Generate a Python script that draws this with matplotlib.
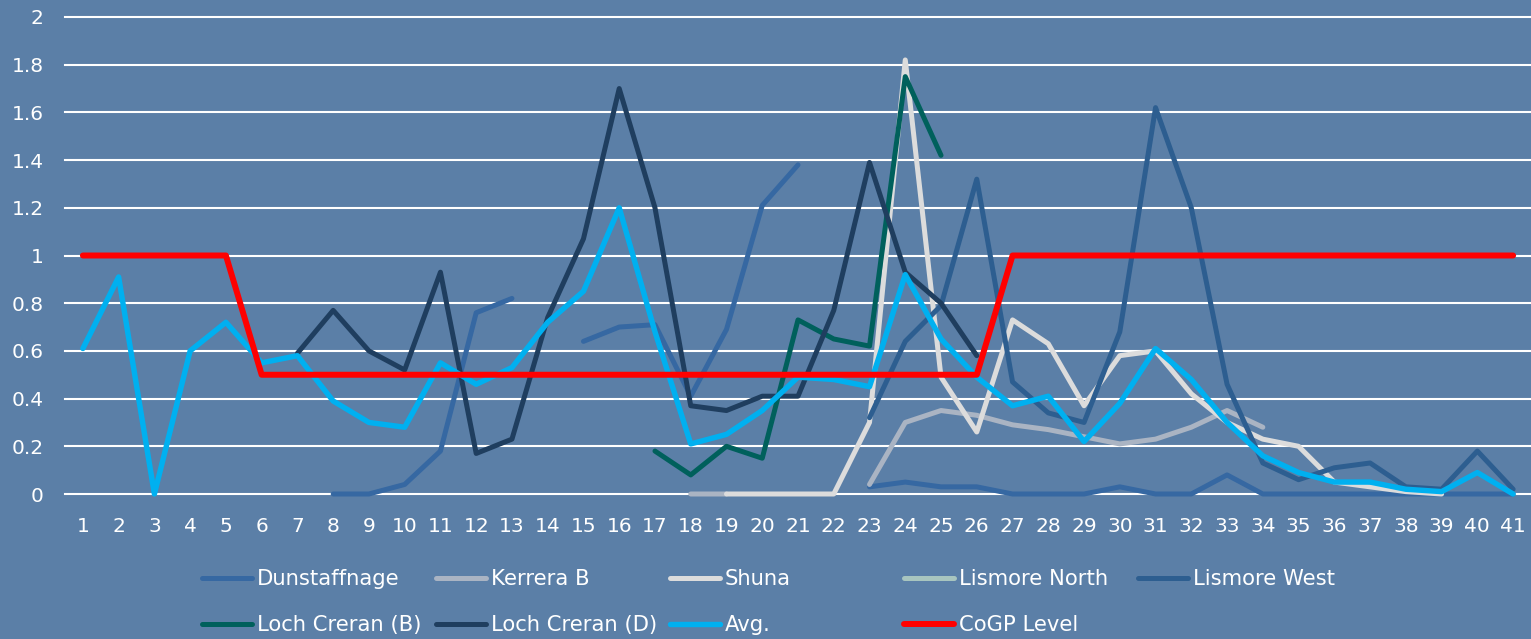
import numpy as np
import matplotlib
matplotlib.use("Agg")
import matplotlib.pyplot as plt
from matplotlib.lines import Line2D

nan = np.nan
x = list(range(1, 42))

dunstaffnage = [nan, nan, nan, nan, nan, nan, nan, 0.00, 0.00, 0.04,
                0.18, 0.76, 0.82, nan, 0.64, 0.70, 0.71, 0.41, 0.69, 1.21,
                1.38, nan, 0.03, 0.05, 0.03, 0.03, 0.00, 0.00, 0.00, 0.03,
                0.00, 0.00, 0.08, 0.00, 0.00, 0.00, 0.00, 0.00, 0.00, 0.00, 0.00]
kerrera_b = [nan, nan, nan, nan, nan, nan, nan, nan, nan, nan,
             nan, nan, nan, nan, nan, nan, nan, 0.00, 0.00, nan,
             nan, nan, 0.04, 0.30, 0.35, 0.33, 0.29, 0.27, 0.24, 0.21,
             0.23, 0.28, 0.35, 0.28, nan, nan, nan, nan, nan, nan, nan]
shuna = [nan, nan, nan, nan, nan, nan, nan, nan, nan, nan,
         nan, nan, nan, nan, nan, nan, nan, nan, 0.00, 0.00,
         0.00, 0.00, 0.30, 1.82, 0.49, 0.26, 0.73, 0.63, 0.37, 0.58,
         0.60, 0.42, 0.30, 0.23, 0.20, 0.05, 0.03, 0.01, 0.00, nan, nan]
lismore_north = [nan] * 41
lismore_west = [nan, nan, nan, nan, nan, nan, nan, nan, nan, nan,
                nan, nan, nan, nan, nan, nan, nan, nan, nan, nan,
                nan, nan, 0.32, 0.64, 0.79, 1.32, 0.47, 0.34, 0.30, 0.68,
                1.62, 1.20, 0.46, 0.13, 0.06, 0.11, 0.13, 0.03, 0.02, 0.18, 0.02]
loch_creran_b = [nan, nan, nan, nan, nan, nan, nan, nan, nan, nan,
                 nan, nan, nan, nan, nan, nan, 0.18, 0.08, 0.20, 0.15,
                 0.73, 0.65, 0.62, 1.75, 1.42, nan, nan, nan, nan, nan,
                 nan, nan, nan, nan, nan, nan, nan, nan, nan, nan, nan]
loch_creran_d = [nan, nan, nan, nan, nan, nan, 0.59, 0.77, 0.60, 0.52,
                 0.93, 0.17, 0.23, 0.74, 1.07, 1.70, 1.20, 0.37, 0.35, 0.41,
                 0.41, 0.77, 1.39, 0.93, 0.80, 0.58, nan, nan, nan, nan,
                 nan, nan, nan, nan, nan, nan, nan, nan, nan, nan, nan]
avg = [0.61, 0.91, 0.00, 0.60, 0.72, 0.55, 0.58, 0.39, 0.30, 0.28,
       0.55, 0.46, 0.53, 0.72, 0.85, 1.20, 0.68, 0.21, 0.25, 0.35,
       0.49, 0.48, 0.45, 0.92, 0.65, 0.49, 0.37, 0.41, 0.22, 0.38,
       0.61, 0.48, 0.30, 0.16, 0.09, 0.05, 0.05, 0.02, 0.01, 0.09, 0.00]
cogp = [1, 1, 1, 1, 1] + [0.5] * 21 + [1] * 15

series = [
    ("Dunstaffnage", dunstaffnage, "#3668a2", 3.6),
    ("Kerrera B", kerrera_b, "#aab4c3", 3.6),
    ("Shuna", shuna, "#dcdcdc", 3.6),
    ("Lismore North", lismore_north, "#a8c5bf", 3.6),
    ("Lismore West", lismore_west, "#2d5e90", 3.6),
    ("Loch Creran (B)", loch_creran_b, "#00605c", 3.6),
    ("Loch Creran (D)", loch_creran_d, "#1f3e5f", 3.6),
    ("Avg.", avg, "#00b0f0", 3.9),
    ("CoGP Level", cogp, "#ff0000", 4.3),
]

bg = "#5b7fa7"
W, H = 1531, 639
fig = plt.figure(figsize=(W / 100, H / 100), dpi=100, facecolor=bg)
ax = fig.add_axes([65 / W, 1 - 494 / H, 1 - 65 / W, (494 - 17) / H])
ax.set_facecolor(bg)
for s in ax.spines.values():
    s.set_visible(False)

ax.set_xlim(0.5, 41.5)
ax.set_ylim(0, 2)
yt = [0, 0.2, 0.4, 0.6, 0.8, 1, 1.2, 1.4, 1.6, 1.8, 2]
for v in yt:
    ax.axhline(v, color="white", lw=1.5, zorder=1, clip_on=False)
ax.set_yticks(yt)
ax.set_yticklabels([f"{v:g}" for v in yt])
ax.set_xticks(x)
ax.set_xticklabels([str(i) for i in x])
ax.tick_params(axis="both", length=0, colors="white", labelsize=14.5)
ax.tick_params(axis="y", pad=15.5)
ax.tick_params(axis="x", pad=16.5)

handles = []
for name, vals, col, lw in series:
    ln, = ax.plot(x, vals, color=col, lw=lw, solid_capstyle="round",
                  solid_joinstyle="round", clip_on=False, zorder=3, label=name)
    handles.append(ln)

# legend: Excel-like fixed grid positions
col_x = [202, 436, 670, 904, 1138]
row_y = [579, 625]
fs = 15.2
for i, h in enumerate(handles):
    r, c = divmod(i, 5)
    proxy = Line2D([0], [0], color=h.get_color(), lw=h.get_linewidth(),
                   solid_capstyle="round")
    lg = fig.legend([proxy], [h.get_label()], loc="center left",
                    bbox_to_anchor=(col_x[c] / W, 1 - row_y[r] / H),
                    frameon=False, fontsize=fs, handlelength=36 / fs,
                    handletextpad=0.22, borderpad=0, borderaxespad=0)
    for t in lg.get_texts():
        t.set_color("white")

fig.savefig("out.png", dpi=100, facecolor=bg)
